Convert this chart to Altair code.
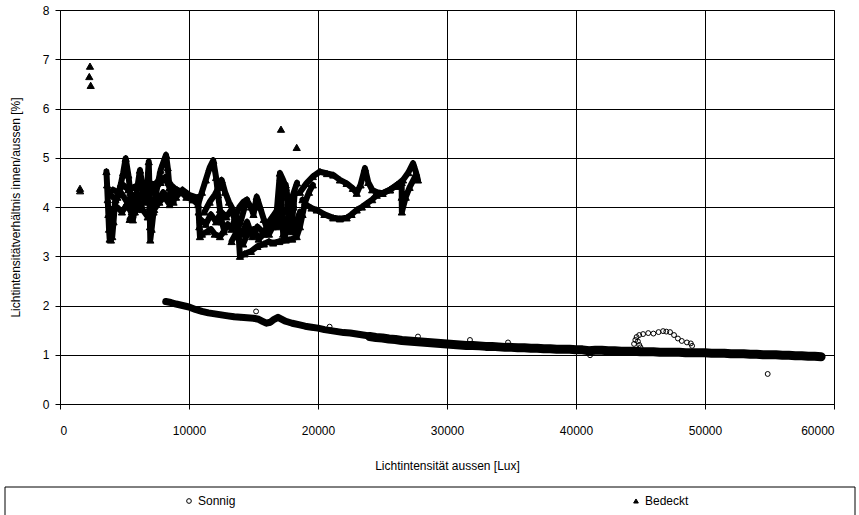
import altair as alt
import pandas as pd

# ---------------- data ----------------
x_ticks = [0, 10000, 20000, 30000, 40000, 50000, 60000]
y_ticks = [0, 1, 2, 3, 4, 5, 6, 7, 8]
series_names = ["Sonnig", "Bedeckt"]

# Sonnig (sunny) - dense band, first part
son_a_x = [8200, 8600, 9000, 9500, 10000, 10500, 11000, 11500, 12000, 12500, 13000, 13500,
           14000, 14500, 15000, 15400, 15700, 16000, 16300, 16600, 16900, 17200, 17500, 18000,
           18500, 19000, 19500, 20000, 20500, 21000, 21500, 22000, 22500, 23000, 23500, 24000]
son_a_y = [2.08, 2.06, 2.03, 2.00, 1.97, 1.92, 1.88, 1.85, 1.83, 1.81, 1.79, 1.77,
           1.76, 1.75, 1.74, 1.72, 1.68, 1.64, 1.66, 1.72, 1.76, 1.72, 1.68, 1.64,
           1.61, 1.58, 1.56, 1.54, 1.51, 1.49, 1.47, 1.45, 1.44, 1.42, 1.40, 1.38]
# Sonnig - dense band, second part
son_b_x = [24000, 24500, 25000, 25500, 26000, 26500, 27000, 27500, 28000, 28500, 29000, 29500,
           30000, 30500, 31000, 31500, 32000, 32500, 33000, 33500, 34000, 34500, 35000, 35500,
           36000, 36500, 37000, 37500, 38000, 38500, 39000, 39500, 40000, 40500, 41000, 41500,
           42000, 42500, 43000, 43500, 44000, 44500, 45000, 45500, 46000, 46500, 47000, 47500,
           48000, 48500, 49000, 49500, 50000, 50500, 51000, 51500, 52000, 52500, 53000, 53500,
           54000, 54500, 55000, 55500, 56000, 56500, 57000, 57500, 58000, 58500, 59000]
son_b_y = [1.37, 1.35, 1.34, 1.32, 1.31, 1.29, 1.28, 1.27, 1.26, 1.25, 1.24, 1.23,
           1.22, 1.21, 1.20, 1.19, 1.19, 1.18, 1.17, 1.17, 1.16, 1.15, 1.15, 1.14,
           1.14, 1.13, 1.13, 1.12, 1.12, 1.11, 1.11, 1.11, 1.10, 1.10, 1.08, 1.09,
           1.09, 1.08, 1.08, 1.07, 1.07, 1.07, 1.06, 1.06, 1.06, 1.05, 1.05, 1.05,
           1.05, 1.04, 1.04, 1.04, 1.04, 1.03, 1.03, 1.03, 1.02, 1.02, 1.02, 1.01,
           1.01, 1.00, 1.00, 1.00, 0.99, 0.99, 0.98, 0.98, 0.97, 0.97, 0.96]
# Sonnig - loop around 45000-49000 and scattered circles
son_loop_x = [44500, 44600, 44700, 44900, 45200, 45600, 46000, 46400, 46750, 47000, 47290,
              47600, 47900, 48200, 48600, 48900, 49000, 44800, 44900, 45000]
son_loop_y = [1.22, 1.30, 1.36, 1.40, 1.42, 1.44, 1.43, 1.46, 1.48, 1.47, 1.46,
              1.40, 1.33, 1.28, 1.25, 1.23, 1.18, 1.27, 1.20, 1.15]
son_single_x = [15200, 20900, 27750, 31780, 34730, 41090, 54860]
son_single_y = [1.88, 1.57, 1.37, 1.30, 1.25, 0.99, 0.61]

# Bedeckt (overcast) - trajectories of dense points
bed_1_x = [3600, 3650, 3700, 3750, 3800, 3850, 3950, 4050, 4150, 4250, 4450, 4730, 4900, 5090,
           5300, 5450, 5560, 5650, 5800, 6000, 6200, 6400, 6600, 6750, 6880, 6920, 6950, 6980,
           7000, 7100, 7250, 7400, 7600, 7800, 8000, 8220, 8350, 8450, 8550, 8800, 9100, 9400,
           9800, 10300]
bed_1_y = [4.72, 4.45, 4.15, 3.85, 3.55, 3.35, 3.33, 3.40, 3.70, 4.05, 4.20, 4.48, 4.70, 4.99,
           4.65, 4.30, 3.90, 3.74, 3.95, 4.40, 4.75, 4.40, 4.10, 4.40, 4.92, 4.50, 4.00, 3.60,
           3.33, 3.55, 3.90, 4.20, 4.50, 4.75, 4.90, 5.06, 4.80, 4.50, 4.30, 4.25, 4.35, 4.30,
           4.20, 4.15]
bed_2_x = [3900, 4300, 4700, 5200, 5600, 6000, 6500, 6900, 7300, 7700, 8100, 8500, 9000, 9500,
           10000, 10500]
bed_2_y = [4.25, 4.15, 4.30, 4.10, 4.25, 4.10, 4.35, 4.20, 3.95, 4.10, 4.20, 4.05, 4.20, 4.35,
           4.25, 4.20]
bed_3_x = [5400, 5800, 6300, 6800, 7300, 7800, 8200, 8600, 9000]
bed_3_y = [3.75, 3.90, 4.05, 4.20, 4.35, 4.50, 4.60, 4.45, 4.35]
bed_4_x = [10300, 10700, 11000, 11300, 11600, 11880, 12100, 12250, 12400, 12550, 12700]
bed_4_y = [4.15, 4.05, 4.30, 4.55, 4.80, 4.95, 4.60, 4.25, 3.95, 3.70, 3.55]
bed_5_x = [10700, 10750, 10800, 10850, 11000, 11400, 11700, 12000, 12400, 12700, 13000, 13300,
           13600, 13900, 14200, 14500]
bed_5_y = [4.20, 3.90, 3.60, 3.40, 3.45, 3.50, 3.55, 3.45, 3.40, 3.50, 3.65, 3.55,
           3.80, 4.00, 4.10, 4.15]
bed_6_x = [11200, 11600, 12000, 12300, 12530, 12800, 13100, 13400, 13700, 13850, 13950, 14300,
           14800, 15300, 15800, 16200, 16520, 17000, 17500, 18000, 18350, 18600, 18800, 19000,
           19300, 19600]
bed_6_y = [3.90, 4.10, 4.25, 4.40, 4.55, 4.30, 4.10, 3.95, 3.80, 3.40, 3.00, 3.05,
           3.10, 3.20, 3.25, 3.30, 3.27, 3.30, 3.33, 3.35, 3.40, 3.60, 3.85, 4.10,
           4.30, 4.45]
bed_7_x = [13300, 13700, 14000, 14470, 14800, 15000, 15250, 15500, 15800, 16000, 16200, 16500,
           16800, 17050, 17300, 17500, 17700, 17900, 18100, 18300]
bed_7_y = [3.30, 3.50, 3.70, 4.14, 4.00, 3.85, 4.21, 4.00, 3.75, 3.60, 3.45, 3.60,
           3.90, 4.69, 4.55, 4.40, 4.10, 3.80, 3.60, 3.50]
bed_8_x = [14200, 14600, 15000, 15400, 15800, 16200, 16600, 17000, 17400, 17800, 18200, 18600]
bed_8_y = [3.25, 3.50, 3.55, 3.35, 3.45, 3.70, 3.85, 4.00, 3.70, 3.55, 3.60, 3.90]
bed_9_x = [17100, 17150, 17200, 17250, 17300, 17400, 17700, 18000, 18370]
bed_9_y = [4.60, 4.30, 4.00, 3.70, 3.45, 3.35, 3.80, 4.20, 4.49]
bed_10_x = [18600, 19100, 19600, 20150, 20700, 21180, 21700, 22220, 22700, 23000, 23300, 23640,
            23900, 24200, 24550, 25000, 25580, 26000, 26590, 27000, 27370, 27600, 27750]
bed_10_y = [4.30, 4.48, 4.62, 4.72, 4.68, 4.65, 4.55, 4.48, 4.38, 4.28, 4.45, 4.79,
            4.50, 4.35, 4.30, 4.28, 4.35, 4.42, 4.55, 4.70, 4.89, 4.70, 4.55]
bed_11_x = [18800, 19120, 19500, 19900, 20500, 21180, 21700, 22220, 22600, 23000, 23400, 23780,
            24200, 24550, 25000, 25580, 26100, 26490, 26490, 26500, 26800, 27100, 27500]
bed_11_y = [4.15, 4.04, 3.98, 3.94, 3.85, 3.78, 3.76, 3.78, 3.85, 3.94, 4.00, 4.07,
            4.15, 4.24, 4.28, 4.35, 4.45, 4.50, 4.20, 3.90, 4.20, 4.40, 4.60]
bed_12_x = [4000, 4400, 4800, 5200, 5600, 6000, 6400, 6800, 7200, 7600, 8000, 8400, 8800]
bed_12_y = [3.95, 4.00, 3.90, 4.05, 3.85, 4.00, 3.95, 3.80, 4.05, 4.15, 4.30, 4.20, 4.10]
bed_13_x = [4100, 4500, 4900, 5300, 5700, 6100, 6500, 6900, 7300, 7700, 8100, 8500]
bed_13_y = [4.35, 4.30, 4.45, 4.35, 4.40, 4.45, 4.40, 4.50, 4.45, 4.55, 4.60, 4.40]
bed_14_x = [10900, 11300, 11700, 12100, 12500, 12900, 13300, 13700, 14100, 14500, 14900, 15300,
            15700, 16100, 16500, 16900, 17300, 17700, 18100]
bed_14_y = [3.75, 3.65, 3.85, 3.70, 3.90, 3.80, 3.95, 3.60, 3.45, 3.70, 3.40, 3.60,
            3.50, 3.55, 3.80, 3.60, 3.95, 3.90, 4.05]
bed_15_x = [17500, 17600, 17700, 17800, 17900, 18000, 18100, 18200]
bed_15_y = [4.45, 4.20, 3.95, 3.70, 3.50, 3.75, 4.00, 4.30]
bed_single_x = [1550, 1560, 2325, 2270, 2380, 17130, 18350]
bed_single_y = [4.38, 4.33, 6.86, 6.65, 6.47, 5.58, 5.21]

# ---------------- assemble ----------------
rows = []


def add(series, track, xs, ys):
    for k, (xv, yv) in enumerate(zip(xs, ys)):
        rows.append({"series": series, "track": track, "x": xv, "y": yv, "i": k})


add("Sonnig", "son_a", son_a_x, son_a_y)
add("Sonnig", "son_b", son_b_x, son_b_y)
add("Sonnig", "son_loop", son_loop_x, son_loop_y)
add("Sonnig", "son_single", son_single_x, son_single_y)
bed_tracks = [(bed_1_x, bed_1_y), (bed_2_x, bed_2_y), (bed_3_x, bed_3_y), (bed_4_x, bed_4_y),
              (bed_5_x, bed_5_y), (bed_6_x, bed_6_y), (bed_7_x, bed_7_y), (bed_8_x, bed_8_y),
              (bed_9_x, bed_9_y), (bed_10_x, bed_10_y), (bed_11_x, bed_11_y),
              (bed_12_x, bed_12_y), (bed_13_x, bed_13_y), (bed_14_x, bed_14_y),
              (bed_15_x, bed_15_y)]
for n, (bx, by) in enumerate(bed_tracks):
    add("Bedeckt", f"bed_{n + 1}", bx, by)
add("Bedeckt", "bed_single", bed_single_x, bed_single_y)

df = pd.DataFrame(rows)
df["size"] = df["series"].map({"Sonnig": 24, "Bedeckt": 52})

line_width = {"son_a": 7, "son_b": 9}
lined = df[~df["track"].isin(["son_loop", "son_single", "bed_single"])].copy()
lined["sw"] = lined["track"].map(lambda t: line_width.get(t, 6))

FONT = "Liberation Sans"

x_enc = alt.X("x:Q", scale=alt.Scale(domain=[0, 60000], nice=False, zero=False),
              axis=alt.Axis(values=x_ticks, format="d", title="Lichtintensität aussen [Lux]"))
y_enc = alt.Y("y:Q", scale=alt.Scale(domain=[0, 8], nice=False),
              axis=alt.Axis(values=y_ticks, format="d",
                            title="Lichtintensitätverhältnis innen/aussen [%]"))

legend = alt.Legend(title=None, orient="none", legendX=123, legendY=485, direction="horizontal",
                    columnPadding=394, padding=0, labelFont=FONT, labelFontSize=12,
                    labelColor="black", symbolSize=22, symbolStrokeWidth=1, labelOffset=3)

lines = alt.Chart(lined).mark_line(color="black", strokeCap="round", strokeJoin="round").encode(
    x=x_enc, y=y_enc,
    detail="track:N",
    order="i:Q",
    strokeWidth=alt.StrokeWidth("sw:Q", scale=None),
)

points = alt.Chart(df).mark_point(filled=True, strokeWidth=1, opacity=1).encode(
    x=x_enc, y=y_enc,
    shape=alt.Shape("series:N", scale=alt.Scale(domain=series_names,
                                                range=["circle", "triangle-up"]), legend=legend),
    fill=alt.Fill("series:N", scale=alt.Scale(domain=series_names,
                                              range=["transparent", "black"]), legend=legend),
    stroke=alt.Stroke("series:N", scale=alt.Scale(domain=series_names,
                                                  range=["black", "black"]), legend=legend),
    size=alt.Size("size:Q", scale=None),
)

box = alt.Chart(pd.DataFrame({"a": [0]})).mark_rect(
    fill="transparent", stroke="black", strokeWidth=1
).encode(x=alt.value(-55), x2=alt.value(795), y=alt.value(477), y2=alt.value(560))

chart = alt.layer(lines, points, box).properties(
    width=774, height=394,
    padding={"left": 60, "top": 10, "right": 25, "bottom": 111},
    autosize=alt.AutoSizeParams(type="none"),
).configure_view(
    stroke="#808080", strokeWidth=1
).configure_axis(
    grid=True, gridColor="black", gridOpacity=1, gridWidth=1,
    domainColor="black", domainWidth=1, tickColor="black", tickSize=5,
    labelFont=FONT, labelFontSize=12, labelColor="black",
    titleFont=FONT, titleFontSize=12, titleFontWeight="normal", titleColor="black",
).configure_axisX(
    labelPadding=16, titlePadding=24
).configure_axisY(
    labelPadding=6, titlePadding=20
)

chart.save("out.html", embed_options={"renderer": "svg", "actions": False})
